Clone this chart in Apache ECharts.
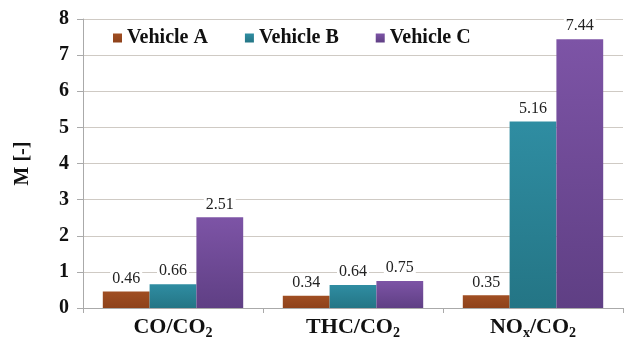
<!DOCTYPE html>
<html>
<head>
<meta charset="utf-8">
<script src="https://cdn.jsdelivr.net/npm/echarts@6/dist/echarts.min.js"></script>
<style>
  html, body { margin: 0; padding: 0; background: #fff; }
  #chart { width: 629px; height: 340px; }
</style>
</head>
<body>
<div id="chart"></div>
<script>
// categories with subscript parts written as rich text
const categories = ['CO/CO{s|2}', 'THC/CO{s|2}', 'NO{s|x}/CO{s|2}']
const seriesNames = ['Vehicle A', 'Vehicle B', 'Vehicle C']
const vehicleA = [0.46, 0.34, 0.35]
const vehicleB = [0.66, 0.64, 5.16]
const vehicleC = [2.51, 0.75, 7.44]
const yTicks = [0, 1, 2, 3, 4, 5, 6, 7, 8]

const serif = 'Liberation Serif'

function grad(top, bottom) {
    return new echarts.graphic.LinearGradient(0, 0, 0, 1, [
        { offset: 0, color: top },
        { offset: 1, color: bottom }
    ])
}

const colors = [
    grad('#a04e22', '#8e421b'),
    grad('#2f8da2', '#247585'),
    grad('#7d54a6', '#5f3f84')
]
const legendColors = ['#9a4a20', '#2e8a9e', '#7450a0']

const chart = echarts.init(document.getElementById('chart'))

function makeSeries(name, data, i) {
    return {
        name: name,
        type: 'bar',
        data: data,
        barGap: '0%',
        barCategoryGap: '22%',
        itemStyle: { color: colors[i] },
        label: {
            show: true,
            position: 'top',
            distance: 5,
            fontFamily: serif,
            fontSize: 16,
            color: '#222',
            backgroundColor: '#fff',
            padding: [0, 2],
            formatter: p => p.value.toFixed(2)
        }
    }
}

chart.setOption({
    animation: false,
    color: legendColors,
    textStyle: { fontFamily: serif },
    grid: {
        top: 19,
        left: 83,
        right: 6,
        bottom: 31
    },
    legend: {
        top: 23,
        left: 108,
        itemWidth: 9,
        itemHeight: 9,
        itemGap: 37,
        icon: 'rect',
        textStyle: {
            fontFamily: serif,
            fontWeight: 'bold',
            fontSize: 20,
            color: '#111'
        },
        data: seriesNames
    },
    xAxis: {
        type: 'category',
        data: categories,
        axisLine: { lineStyle: { color: '#aaa' } },
        axisTick: { show: true, length: 5, lineStyle: { color: '#aaa' } },
        axisLabel: {
            interval: 0,
            hideOverlap: false,
            margin: 6,
            fontFamily: serif,
            fontWeight: 'bold',
            fontSize: 22,
            color: '#111',
            lineHeight: 26,
            rich: {
                s: {
                    fontFamily: serif,
                    fontWeight: 'bold',
                    fontSize: 14,
                    color: '#111',
                    lineHeight: 14,
                    padding: [12, 0, 0, 0]
                }
            }
        }
    },
    yAxis: {
        type: 'value',
        min: yTicks[0],
        max: yTicks[yTicks.length - 1],
        interval: 1,
        name: 'M [-]',
        nameLocation: 'middle',
        nameGap: 50,
        nameTextStyle: {
            fontFamily: serif,
            fontWeight: 'bold',
            fontSize: 20,
            color: '#111'
        },
        axisLine: { show: true, lineStyle: { color: '#aaa' } },
        axisTick: { show: true, length: 6, lineStyle: { color: '#aaa' } },
        splitLine: { lineStyle: { color: '#cfcac4' } },
        axisLabel: {
            margin: 14,
            fontFamily: serif,
            fontWeight: 'bold',
            fontSize: 20,
            color: '#111'
        }
    },
    series: [
        makeSeries(seriesNames[0], vehicleA, 0),
        makeSeries(seriesNames[1], vehicleB, 1),
        makeSeries(seriesNames[2], vehicleC, 2)
    ]
})
</script>
</body>
</html>
